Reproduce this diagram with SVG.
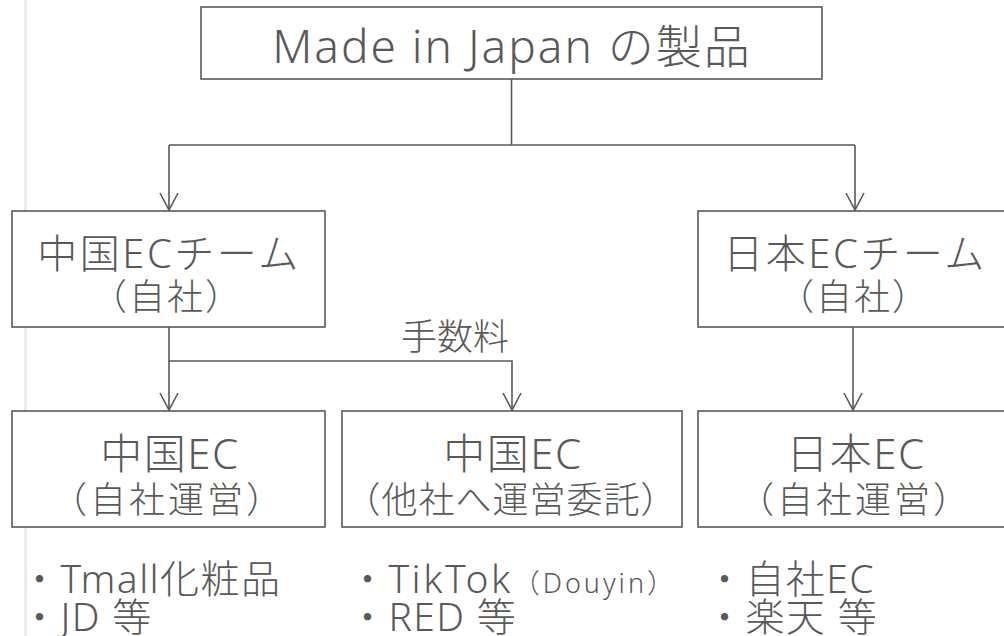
<svg xmlns="http://www.w3.org/2000/svg" width="1004" height="636" viewBox="0 0 1004 636">
<style>
.box{fill:#fff;stroke:#595959;stroke-width:1.6}
.ln{fill:none;stroke:#595959;stroke-width:1.6}
text{font-family:"Noto Sans","Noto Sans CJK JP",sans-serif;fill:#595959;font-weight:300}
.c{text-anchor:middle}
.t1{font-size:40px;letter-spacing:2.5px}
.t2{font-size:36px;letter-spacing:2px}
.u1{font-size:42px;letter-spacing:1.5px}
.u2{font-size:36px;letter-spacing:3px}
.b{font-size:39px;letter-spacing:1.4px}
</style>
<defs>
<marker id="arr" markerUnits="userSpaceOnUse" markerWidth="24" markerHeight="24" viewBox="-20 -12 24 24" refX="0" refY="0" orient="auto">
<path d="M-17,-9 L0,0 L-17,9" fill="none" stroke="#595959" stroke-width="1.6"/>
</marker>
</defs>
<rect x="0" y="0" width="1004" height="636" fill="#fff"/>
<line x1="25.5" y1="0" x2="25.5" y2="636" stroke="#ececec" stroke-width="3"/>
<g id="connectors">
<polyline class="ln" points="511.5,79 511.5,145"/>
<polyline class="ln" points="169,145 855,145"/>
<line class="ln" x1="169" y1="145" x2="169" y2="210" marker-end="url(#arr)"/>
<line class="ln" x1="855" y1="145" x2="855" y2="210" marker-end="url(#arr)"/>
<line class="ln" x1="169" y1="327" x2="169" y2="410" marker-end="url(#arr)"/>
<polyline class="ln" points="169,361 512,361 512,410" marker-end="url(#arr)"/>
<line class="ln" x1="853" y1="327" x2="853" y2="410" marker-end="url(#arr)"/>
<text class="c" x="455" y="350" style="font-size:36px">手数料</text>
</g>
<g id="top">
<rect class="box" x="201" y="7" width="621" height="72"/>
<text class="c" x="512" y="63" style="font-size:46px;letter-spacing:2px">Made in Japan の製品</text>
</g>
<g id="cn-team">
<rect class="box" x="12" y="211" width="313" height="116"/>
<text class="c t1" x="169" y="268">中国ECチーム</text>
<text class="c t2" x="167" y="310">（自社）</text>
</g>
<g id="jp-team">
<rect class="box" x="698" y="211" width="313" height="116"/>
<text class="c t1" x="855" y="268">日本ECチーム</text>
<text class="c t2" x="854" y="310">（自社）</text>
</g>
<g id="cn-own">
<rect class="box" x="12" y="411" width="313" height="116"/>
<text class="c u1" x="170" y="469">中国EC</text>
<text class="c u2" x="168" y="513">（自社運営）</text>
</g>
<g id="cn-out">
<rect class="box" x="342" y="411" width="340" height="116"/>
<text class="c u1" x="513" y="469">中国EC</text>
<text class="c t2" x="511" y="513" style="letter-spacing:1px">（他社へ運営委託）</text>
</g>
<g id="jp-own">
<rect class="box" x="698" y="411" width="313" height="116"/>
<text class="c u1" x="856" y="469">日本EC</text>
<text class="c u2" x="855" y="513">（自社運営）</text>
</g>
<g id="list-cn-own">
<text class="b" x="20" y="593">・Tmall化粧品</text>
<text class="b" x="20" y="631">・JD 等</text>
</g>
<g id="list-cn-out">
<text class="b" x="348" y="593">・<tspan style="letter-spacing:2.5px">TikTok</tspan><tspan style="font-size:27px;letter-spacing:3px">（Douyin）</tspan></text>
<text class="b" x="348" y="631">・RED 等</text>
</g>
<g id="list-jp-own">
<text class="b" x="705" y="593">・自社EC</text>
<text class="b" x="705" y="631">・楽天 等</text>
</g>
</svg>
